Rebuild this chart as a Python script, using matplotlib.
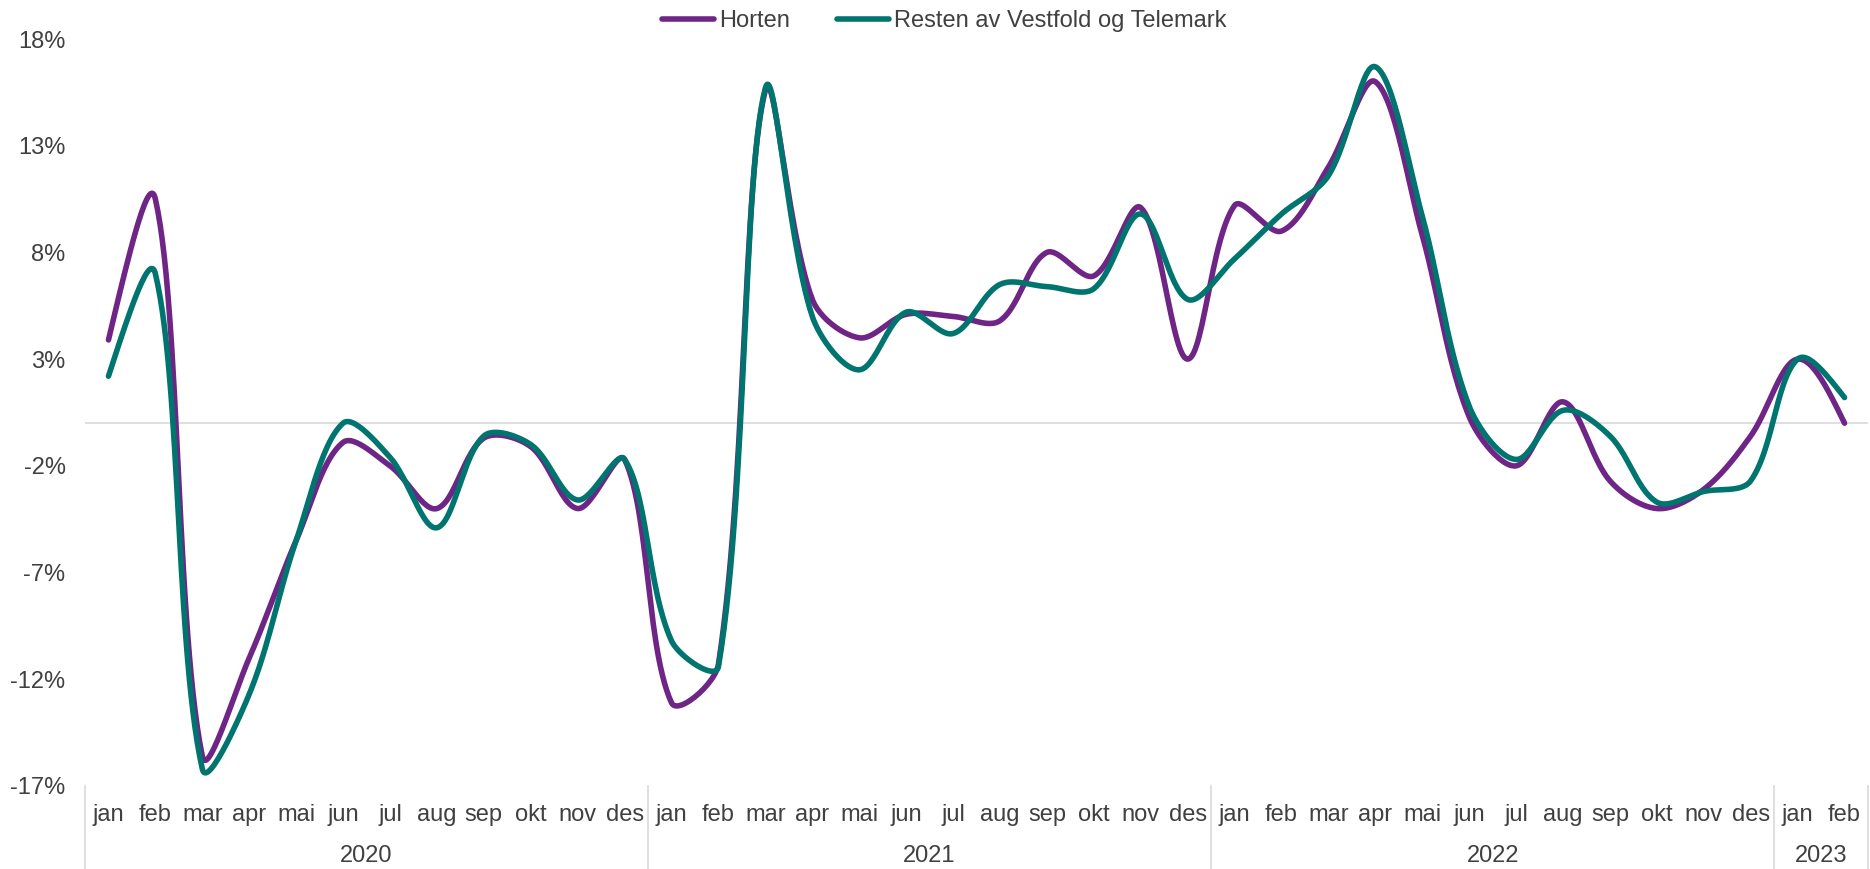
import matplotlib.pyplot as plt
import matplotlib.transforms as mtransforms
import numpy as np

plt.rcParams['font.family'] = ['Liberation Sans', 'DejaVu Sans']

months = ['jan', 'feb', 'mar', 'apr', 'mai', 'jun', 'jul', 'aug', 'sep', 'okt', 'nov', 'des']
years = ['2020', '2021', '2022', '2023']
year_counts = [12, 12, 12, 2]

# monthly change in percent
horten = [3.9, 10.5, -15.6, -11.0, -5.5, -0.9, -2.0, -4.0, -0.7, -1.1, -4.0, -1.7,
          -13.1, -11.3, 15.6, 5.8, 4.0, 5.1, 5.0, 4.8, 8.0, 6.9, 10.1, 3.0,
          10.2, 9.0, 12.0, 16.0, 8.8, 0.3, -2.0, 1.0, -2.7, -4.0, -3.1, -0.6,
          3.0, 0.0]
resten = [2.2, 7.0, -16.2, -12.7, -5.5, 0.0, -1.6, -4.9, -0.6, -1.0, -3.6, -1.7,
          -10.2, -11.4, 15.7, 5.0, 2.5, 5.2, 4.2, 6.5, 6.4, 6.3, 9.8, 5.8,
          7.7, 9.8, 11.6, 16.7, 9.7, 0.8, -1.7, 0.6, -0.6, -3.7, -3.2, -2.7,
          3.0, 1.2]

purple = '#6E2585'
teal = '#00746F'
text_col = '#404040'
grid_col = '#D9D9D9'


def smooth(x, y, sx=46.9, sy=21.3, n=30):
    # Excel-like smoothed line: bezier segments, tangents split by chord length
    p = np.column_stack([np.asarray(x) * sx, np.asarray(y) * sy]).astype(float)
    m = len(p)
    cin = p.copy()
    cout = p.copy()
    for i in range(1, m - 1):
        d01 = np.hypot(*(p[i] - p[i - 1]))
        d12 = np.hypot(*(p[i + 1] - p[i]))
        tan = p[i + 1] - p[i - 1]
        cin[i] = p[i] - tan * d01 / (d01 + d12) / 3
        cout[i] = p[i] + tan * d12 / (d01 + d12) / 3
    cout[0] = p[0] + (cin[1] - p[0]) / 2
    cin[-1] = p[-1] + (cout[-2] - p[-1]) / 2
    t = np.linspace(0, 1, n)[:, None]
    out = []
    for i in range(m - 1):
        a, b, c, d = p[i], cout[i], cin[i + 1], p[i + 1]
        seg = (1 - t) ** 3 * a + 3 * (1 - t) ** 2 * t * b + 3 * (1 - t) * t ** 2 * c + t ** 3 * d
        out.append(seg if i == 0 else seg[1:])
    out = np.vstack(out)
    return out[:, 0] / sx, out[:, 1] / sy


W, H = 1870, 869
fig = plt.figure(figsize=(W / 100, H / 100), dpi=100)
ax = fig.add_axes([85 / W, 1 - 786 / H, (1868 - 85) / W, (786 - 39) / H])

x = np.arange(len(horten))
for vals, col, lab in [(horten, purple, 'Horten'), (resten, teal, 'Resten av Vestfold og Telemark')]:
    sx, sy = smooth(x, vals)
    ax.plot(sx, sy, color=col, lw=4.0, label=lab, solid_capstyle='round', zorder=3)

ax.axhline(0, color=grid_col, lw=1.2, zorder=1)

ax.set_xlim(-0.5, len(x) - 0.5)
ax.set_ylim(-17, 18)
yt = np.arange(-17, 19, 5)
ax.set_yticks(yt)
ax.set_yticklabels([f'{v}%' for v in yt], fontsize=17, color=text_col)
ax.set_xticks([])
ax.tick_params(axis='y', length=0, pad=14)
for s in ax.spines.values():
    s.set_visible(False)

# two-level category axis
trans = mtransforms.blended_transform_factory(ax.transData, fig.transFigure)
labels = []
for c in year_counts:
    labels += months[:c]
for i, m in enumerate(labels):
    ax.text(i, 1 - 815 / H, m, transform=trans, ha='center', va='center',
            fontsize=17, color=text_col)

start = 0
bounds = [-0.5]
for yr, c in zip(years, year_counts):
    ax.text(start + (c - 1) / 2, 1 - 856 / H, yr, transform=trans, ha='center', va='center',
            fontsize=17, color=text_col)
    start += c
    bounds.append(start - 0.5)
for b in bounds:
    ax.plot([b, b], [1 - 786 / H, 0], transform=trans, color=grid_col, lw=1.2, clip_on=False)

fig.legend(loc='center', bbox_to_anchor=(0.505, 1 - 21 / H), ncol=2, frameon=False,
           fontsize=17, handlelength=2.2, handletextpad=0.2, columnspacing=2.0,
           labelcolor=text_col)

fig.savefig('out.png', dpi=100)
